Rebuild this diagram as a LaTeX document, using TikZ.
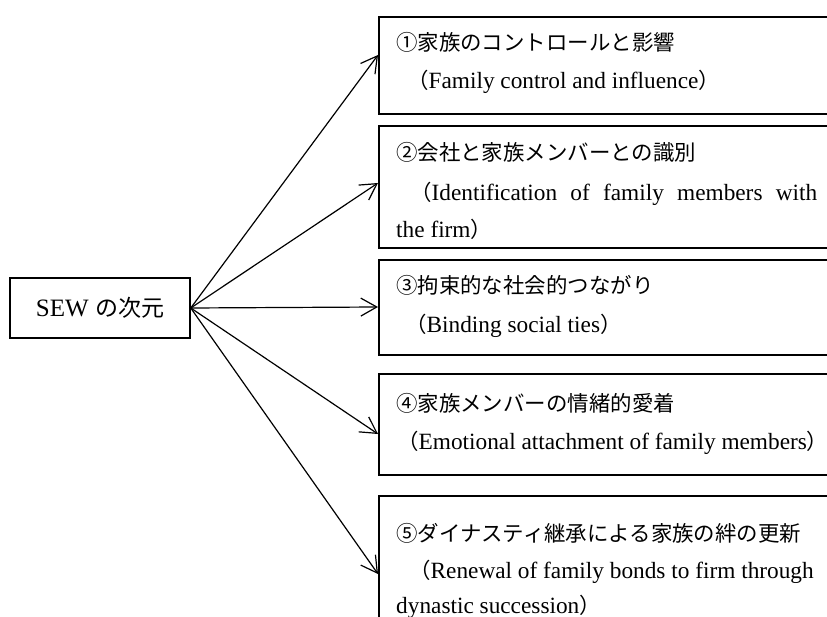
\documentclass[tikz,border=0pt]{standalone}
\usepackage{fontspec}
\setmainfont{Liberation Serif}
\newfontfamily\jp[Scale=0.92]{Noto Sans CJK JP}
\usetikzlibrary{arrows.meta}
\tikzset{
  bx/.style={draw, line width=1.8pt, anchor=north west, minimum width=482pt, inner sep=0pt},
  sewbox/.style={draw, line width=1.5pt, minimum width=180pt, minimum height=60pt, inner sep=0pt,
    font=\fontsize{25}{30}\selectfont},
  txt/.style={anchor=base west, inner sep=0pt, font=\fontsize{23.3}{28}\selectfont},
  arr/.style={line width=1.2pt, -{Straight Barb[length=16pt,width=18pt]}}
}
\begin{document}
\begin{tikzpicture}[x=1pt,y=-1pt]
\clip (0,0) rectangle (827,617);
% boxes
\node[bx, minimum height=97pt]  (b1) at (378,16)  {};
\node[bx, minimum height=122pt] (b2) at (378,125) {};
\node[bx, minimum height=95pt]  (b3) at (378,259) {};
\node[bx, minimum height=101pt] (b4) at (378,373) {};
\node[bx, minimum height=150pt] (b5) at (378,495) {};
% source box
\node[sewbox] (sew) at (100,308) {SEW {\jp の次元}};
% texts
\node[txt] (t1a) at (396,51)  {{\jp ①家族のコントロールと影響}};
\node[txt] (t1b) at (407,89)  {{\jp （}Family control and influence{\jp ）}};
\node[txt] (t2a) at (396,161) {{\jp ②会社と家族メンバーとの識別}};
\node[txt] (t2b) at (410,201) {\makebox[407pt][s]{{\jp （}Identification of family members with}};
\node[txt] (t2c) at (396,238) {the firm{\jp ）}};
\node[txt] (t3a) at (396,294) {{\jp ③拘束的な社会的つながり}};
\node[txt] (t3b) at (405,333) {{\jp （}Binding social ties{\jp ）}};
\node[txt] (t4a) at (396,411) {{\jp ④家族メンバーの情緒的愛着}};
\node[txt] (t4b) at (397,449) {{\jp （}Emotional attachment of family members{\jp ）}};
\node[txt] (t5a) at (396,541) {{\jp ⑤ダイナスティ継承による家族の絆の更新}};
\node[txt] (t5b) at (409,578) {{\jp （}Renewal of family bonds to firm through};
\node[txt] (t5c) at (396,613) {dynastic succession{\jp ）}};
% arrow end heights
\coordinate (e1) at (0,55);
\coordinate (e2) at (0,183);
\coordinate (e3) at (0,307);
\coordinate (e4) at (0,434);
\coordinate (e5) at (0,574);
\draw[arr] (sew.east) -- (b1.west |- e1);
\draw[arr] (sew.east) -- (b2.west |- e2);
\draw[arr] (sew.east) -- (b3.west |- e3);
\draw[arr] (sew.east) -- (b4.west |- e4);
\draw[arr] (sew.east) -- (b5.west |- e5);
\end{tikzpicture}
\end{document}
